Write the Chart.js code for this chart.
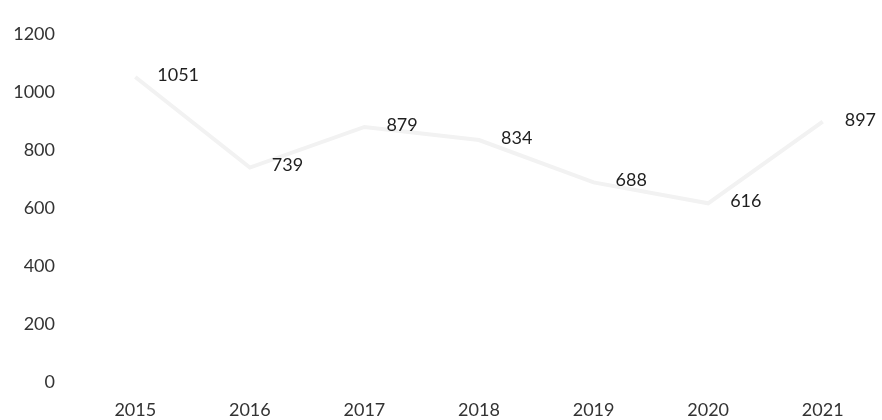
<!DOCTYPE html>
<html>
<head>
<meta charset="utf-8">
<script src="https://cdn.jsdelivr.net/npm/chart.js@4"></script>
<style>
  html, body { margin: 0; padding: 0; background: #fff; }
  #wrap { width: 882px; height: 420px; position: relative; }
</style>
</head>
<body>
<div id="wrap"><canvas id="chart"></canvas></div>
<script>
const years = ['2015', '2016', '2017', '2018', '2019', '2020', '2021'];
const values = [1051, 739, 879, 834, 688, 616, 897];
const yTicks = [0, 200, 400, 600, 800, 1000, 1200];

const FONT = 'Lato, "Open Sans", sans-serif';

// draws each value to the right of its point
const valueLabels = {
    id: 'valueLabels',
    afterDatasetsDraw(chart) {
        const ctx = chart.ctx;
        const meta = chart.getDatasetMeta(0);
        ctx.save();
        ctx.font = '18px ' + FONT;
        ctx.fillStyle = '#1f1f1f';
        ctx.textAlign = 'left';
        ctx.textBaseline = 'middle';
        meta.data.forEach((pt, i) => {
            ctx.fillText(String(values[i]), pt.x + 22, pt.y - 2);
        });
        ctx.restore();
    }
};

new Chart(document.getElementById('chart'), {
    type: 'line',
    data: {
        labels: years,
        datasets: [{
            data: values,
            borderColor: '#f2f2f2',
            borderWidth: 4,
            pointRadius: 0,
            tension: 0,
            fill: false
        }]
    },
    options: {
        responsive: true,
        maintainAspectRatio: false,
        animation: false,
        layout: { padding: { top: 28, right: 2, bottom: 0, left: 0 } },
        plugins: { legend: { display: false }, tooltip: { enabled: false } },
        scales: {
            x: {
                offset: true,
                grid: { display: false, drawTicks: false },
                border: { display: false },
                ticks: { color: '#333333', font: { size: 18, family: FONT }, padding: 17, maxRotation: 0 },
                afterFit: s => { s.height = 38; }
            },
            y: {
                min: 0,
                max: 1200,
                afterBuildTicks: s => { s.ticks = yTicks.map(v => ({ value: v })); },
                grid: { display: false, drawTicks: false },
                border: { display: false },
                ticks: {
                    color: '#333333',
                    font: { size: 18, family: FONT },
                    padding: 23,
                    callback: v => String(v)
                },
                afterFit: s => { s.width = 78; }
            }
        }
    },
    plugins: [valueLabels]
});
</script>
</body>
</html>
